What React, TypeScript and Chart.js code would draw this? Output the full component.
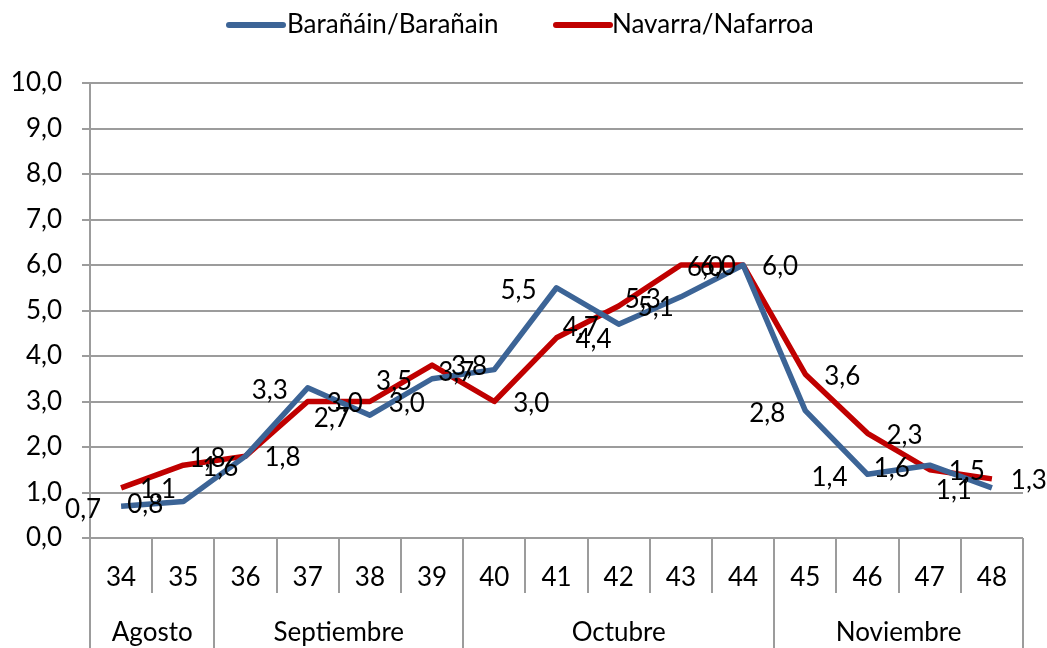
import React, { useEffect, useRef } from "react";
import { Chart, registerables } from "chart.js";

Chart.register(...registerables);

const weeks = ["34", "35", "36", "37", "38", "39", "40", "41", "42", "43", "44", "45", "46", "47", "48"];
const months = ["Agosto", "Septiembre", "Octubre", "Noviembre"];
const monthSpans = [2, 4, 5, 4];
const baranain = [0.7, 0.8, 1.8, 3.3, 2.7, 3.5, 3.7, 5.5, 4.7, 5.3, 6.0, 2.8, 1.4, 1.6, 1.1];
const navarra = [1.1, 1.6, 1.8, 3.0, 3.0, 3.8, 3.0, 4.4, 5.1, 6.0, 6.0, 3.6, 2.3, 1.5, 1.3];
const seriesNames = ["Barañáin/Barañain", "Navarra/Nafarroa"];

const BLUE = "#3c6496";
const RED = "#c00000";
const GRID = "#9c9c9c";
const FONT = "Lato, 'Open Sans', sans-serif";
const FS = 26;

const fmt = (v: number) => v.toFixed(1).replace(".", ",");

const tablePlugin = {
  id: "tablePlugin",
  afterDraw(chart: any) {
    const ctx = chart.ctx;
    const x = chart.scales.x;
    const { left, right, bottom } = chart.chartArea;
    const H = chart.height;
    const half = (x.getPixelForValue(1) - x.getPixelForValue(0)) / 2;
    ctx.save();
    ctx.strokeStyle = GRID;
    ctx.lineWidth = 2;
    ctx.beginPath();
    ctx.moveTo(left - 8, bottom);
    ctx.lineTo(right, bottom);
    ctx.stroke();
    const monthBounds = new Set<number>();
    let acc = 0;
    monthBounds.add(0);
    monthSpans.forEach((s) => { acc += s; monthBounds.add(acc); });
    for (let i = 0; i <= weeks.length; i++) {
      const px = i < weeks.length ? x.getPixelForValue(i) - half : x.getPixelForValue(weeks.length - 1) + half;
      const full = monthBounds.has(i);
      ctx.beginPath();
      ctx.moveTo(Math.round(px), bottom);
      ctx.lineTo(Math.round(px), full ? H : bottom + 55);
      ctx.stroke();
    }
    ctx.fillStyle = "#000";
    ctx.font = `${FS}px ${FONT}`;
    ctx.textAlign = "center";
    ctx.textBaseline = "middle";
    weeks.forEach((w, i) => {
      ctx.fillText(w, x.getPixelForValue(i), bottom + 40);
    });
    let start = 0;
    months.forEach((m, k) => {
      const a = x.getPixelForValue(start) - half;
      const b = x.getPixelForValue(start + monthSpans[k] - 1) + half;
      ctx.fillText(m, (a + b) / 2, bottom + 95);
      start += monthSpans[k];
    });
    const legendY = 25;
    const items = [
      { color: BLUE, x0: 229, x1: 283, tx: 287, name: seriesNames[0] },
      { color: RED, x0: 556, x1: 610, tx: 612, name: seriesNames[1] },
    ];
    items.forEach((it) => {
      ctx.strokeStyle = it.color;
      ctx.lineWidth = 6;
      ctx.lineCap = "round";
      ctx.beginPath();
      ctx.moveTo(it.x0, legendY);
      ctx.lineTo(it.x1, legendY);
      ctx.stroke();
      ctx.textAlign = "left";
      ctx.fillStyle = "#000";
      ctx.fillText(it.name, it.tx, legendY);
    });
    ctx.restore();
  },
};

const labelPlugin = {
  id: "labelPlugin",
  afterDatasetsDraw(chart: any) {
    const ctx = chart.ctx;
    ctx.save();
    ctx.fillStyle = "#000";
    ctx.font = `${FS}px ${FONT}`;
    ctx.textAlign = "center";
    ctx.textBaseline = "middle";
    const offsets = [{ dx: -38, dy: 3 }, { dx: 37, dy: 2 }];
    chart.data.datasets.forEach((ds: any, di: number) => {
      const meta = chart.getDatasetMeta(di);
      meta.data.forEach((pt: any, i: number) => {
        ctx.fillText(fmt(ds.data[i]), pt.x + offsets[di].dx, pt.y + offsets[di].dy);
      });
    });
    ctx.restore();
  },
};

export default function App() {
  const ref = useRef<HTMLCanvasElement>(null);
  useEffect(() => {
    if (!ref.current) return;
    const chart = new Chart(ref.current, {
      type: "line",
      data: {
        labels: weeks,
        datasets: [
          { label: seriesNames[0], data: baranain, borderColor: BLUE, backgroundColor: BLUE, borderWidth: 5.5, pointRadius: 0, tension: 0, borderJoinStyle: "round" },
          { label: seriesNames[1], data: navarra, borderColor: RED, backgroundColor: RED, borderWidth: 5.5, pointRadius: 0, tension: 0, borderJoinStyle: "round" },
        ],
      },
      options: {
        animation: false,
        responsive: false,
        layout: { padding: { top: 83, left: 13, right: 24, bottom: 110 } },
        plugins: { legend: { display: false }, tooltip: { enabled: false } },
        scales: {
          x: { type: "category", offset: true, display: false },
          y: {
            min: 0,
            max: 10,
            afterFit: (scale: any) => { scale.width = 77; },
            ticks: {
              stepSize: 1,
              color: "#000",
              font: { family: FONT, size: FS },
              padding: 20,
              callback: (v: any) => fmt(Number(v)),
            },
            grid: { color: GRID, lineWidth: 2, tickLength: 8 },
            border: { color: GRID, width: 2 },
          },
        },
      },
      plugins: [tablePlugin, labelPlugin],
    });
    return () => chart.destroy();
  }, []);
  return (
    <div style={{ position: "fixed", left: 0, top: 0, width: 1047, height: 648, background: "#fff" }}>
      <canvas ref={ref} width={1047} height={648} style={{ width: 1047, height: 648 }} />
    </div>
  );
}
